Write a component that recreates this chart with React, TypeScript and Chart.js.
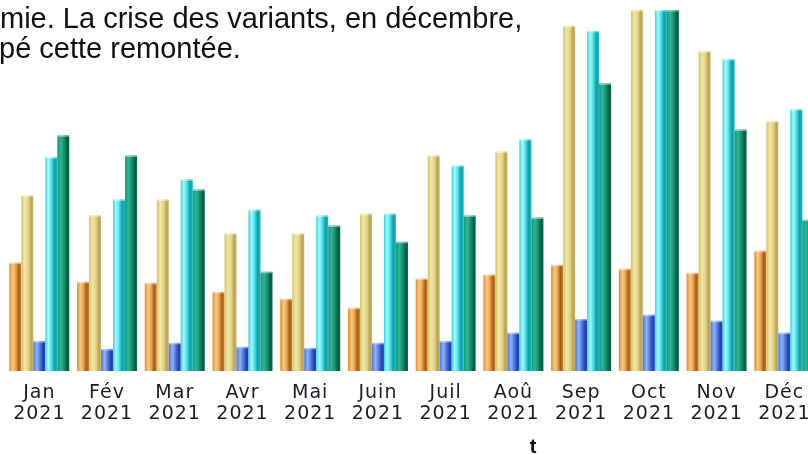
import React, { useEffect, useRef } from 'react';
import { Chart, registerables } from 'chart.js';

Chart.register(...registerables);

const months = ['Jan', 'Fév', 'Mar', 'Avr', 'Mai', 'Juin', 'Juil', 'Aoû', 'Sep', 'Oct', 'Nov', 'Déc'];
const yearLabel = '2021';

const seriesA = [30.0, 24.7, 24.4, 21.9, 20.0, 17.5, 25.6, 26.7, 29.4, 28.3, 27.2, 33.3];
const seriesB = [48.6, 43.1, 47.5, 38.1, 38.1, 43.6, 59.7, 60.8, 95.6, 100, 88.6, 69.2];
const seriesC = [8.3, 6.1, 7.8, 6.7, 6.4, 7.8, 8.3, 10.6, 14.4, 15.6, 13.9, 10.6];
const seriesD = [59.2, 47.5, 53.1, 44.7, 43.1, 43.6, 56.9, 64.2, 94.2, 100, 86.4, 72.5];
const seriesE = [65.3, 59.7, 50.3, 27.5, 40.3, 35.8, 43.1, 42.5, 79.7, 100, 66.9, 41.9];

const titleLines = ['mie. La crise des variants, en décembre,', 'pé cette remontée.'];
const axisTitle = 't';

const W = 830;
const H = 455;

type Stop = [number, string];
const gradients: Stop[][] = [
  [[0, '#e08e28'], [0.3, '#f7ca88'], [0.55, '#eba04a'], [0.78, '#a45e16'], [1, '#c8822c']],
  [[0, '#d6c366'], [0.3, '#f0e6a6'], [0.6, '#e0d07e'], [0.82, '#b6a357'], [1, '#c8b76a']],
  [[0, '#4a74de'], [0.3, '#92b2f6'], [0.6, '#4a70dc'], [0.85, '#1d3dac'], [1, '#2c4ec0']],
  [[0, '#2bd6de'], [0.25, '#aaf7fa'], [0.5, '#50e2ea'], [0.76, '#0ea0a8'], [1, '#19b8c0']],
  [[0, '#169a7c'], [0.3, '#2fb596'], [0.6, '#13896a'], [0.86, '#035a3c'], [1, '#0a6d4d']],
];

const cylinderBars = {
  id: 'cylinderBars',
  afterDatasetsDraw(chart: any) {
    const ctx = chart.ctx;
    const area = chart.chartArea;
    ctx.save();
    ctx.beginPath();
    ctx.rect(area.left, area.top - 2, area.right - area.left, area.bottom - area.top + 2);
    ctx.clip();
    chart.data.datasets.forEach((_ds: any, di: number) => {
      const meta = chart.getDatasetMeta(di);
      const stops = gradients[di];
      meta.data.forEach((el: any) => {
        const p = el.getProps(['x', 'y', 'base', 'width'], true);
        const left = p.x - p.width / 2;
        const g = ctx.createLinearGradient(left, 0, left + p.width, 0);
        stops.forEach(([o, c]) => g.addColorStop(o, c));
        ctx.fillStyle = g;
        ctx.fillRect(left, p.y, p.width, p.base - p.y);
        ctx.fillStyle = 'rgba(255,255,255,0.45)';
        ctx.fillRect(left, p.y, p.width, 1.5);
      });
    });
    ctx.restore();
  },
};

const spacing = {
  id: 'labelSpacing',
  beforeDraw(chart: any) {
    (chart.ctx as any).letterSpacing = '1px';
  },
  afterDatasetsDraw(chart: any) {
    (chart.ctx as any).letterSpacing = '0px';
  },
};

const overlayText = {
  id: 'overlayText',
  afterDraw(chart: any) {
    const ctx = chart.ctx;
    ctx.save();
    (ctx as any).letterSpacing = '0px';
    ctx.fillStyle = '#111111';
    ctx.textBaseline = 'alphabetic';
    ctx.textAlign = 'left';
    ctx.font = '29px "Liberation Sans", Arial, sans-serif';
    ctx.fillText(titleLines[0], 0, 28);
    ctx.fillText(titleLines[1], -1, 58);
    ctx.font = 'bold 20px "Liberation Sans", Arial, sans-serif';
    ctx.textAlign = 'center';
    ctx.fillText(axisTitle, 533, 453);
    ctx.restore();
  },
};

export default function App() {
  const ref = useRef<HTMLCanvasElement | null>(null);

  useEffect(() => {
    if (!ref.current) return;
    const mk = (label: string, data: number[]) => ({
      label,
      data,
      backgroundColor: 'rgba(0,0,0,0)',
      borderWidth: 0,
      categoryPercentage: 60 / 67.73,
      barPercentage: 1,
    });
    const chart = new Chart(ref.current, {
      type: 'bar',
      data: {
        labels: months.map((m) => [m, yearLabel]),
        datasets: [
          mk('A', seriesA),
          mk('B', seriesB),
          mk('C', seriesC),
          mk('D', seriesD),
          mk('E', seriesE),
        ],
      },
      options: {
        animation: false,
        responsive: false,
        devicePixelRatio: 1,
        layout: { padding: { left: 5.44, right: W - 818.2, top: 10, bottom: 0 } },
        plugins: {
          legend: { display: false },
          title: { display: false },
          tooltip: { enabled: false },
        },
        scales: {
          x: {
            grid: { display: false, drawTicks: false },
            border: { display: false },
            ticks: {
              color: '#1c1c28',
              font: { family: '"DejaVu Sans", Verdana, sans-serif', size: 19, lineHeight: 1.1 },
              padding: 12,
              maxRotation: 0,
              autoSkip: false,
            },
            afterFit: (s: any) => {
              s.height = H - 371;
            },
          },
          y: { display: false, min: 0, max: 100 },
        },
      },
      plugins: [spacing, cylinderBars, overlayText],
    });
    return () => chart.destroy();
  }, []);

  return (
    <div style={{ position: 'fixed', left: 0, top: 0, width: 808, height: 455, overflow: 'hidden', background: '#ffffff' }}>
      <canvas ref={ref} width={W} height={H} style={{ display: 'block', width: W, height: H }} />
    </div>
  );
}
